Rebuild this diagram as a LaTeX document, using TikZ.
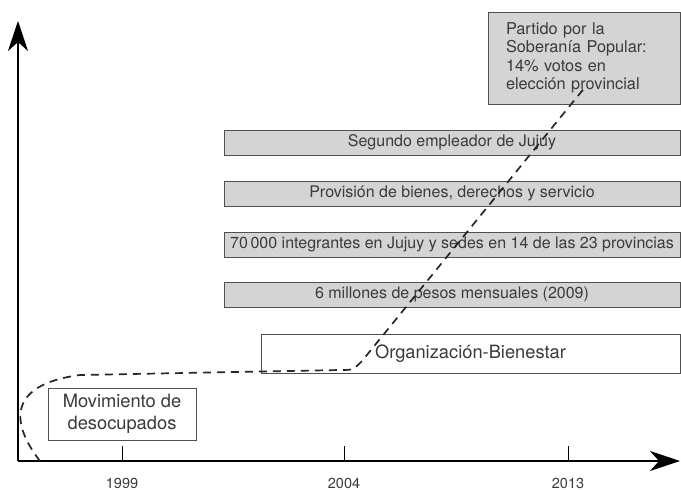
\documentclass[tikz,border=0pt]{standalone}
\usepackage{fontspec}
\setmainfont{TeX Gyre Heros}
\usetikzlibrary{arrows.meta}
\definecolor{grisbarra}{HTML}{D4D4D4}
\definecolor{borde}{HTML}{505050}
\definecolor{texto}{HTML}{3A3A3A}

\begin{document}
\begin{tikzpicture}[x=1pt, y=-1pt,
    barra/.style={draw=borde, fill=grisbarra, line width=0.9pt, minimum width=456pt,
      minimum height=25pt, inner sep=0pt, text=texto, font=\fontsize{16}{18}\selectfont},
    caja/.style={draw=borde, fill=white, line width=0.9pt, inner sep=0pt, text=texto,
      font=\fontsize{18.3}{22}\selectfont},
    eje/.style={line width=1.2pt, -{Stealth[length=30pt, width=20pt, inset=9pt]}},
    tray/.style={line width=1.7pt, dash pattern=on 8pt off 6pt, black!85}]
  \useasboundingbox (0,0) rectangle (681,490);

  % ejes y marcas
  \coordinate (origen) at (18,461);
  \coordinate (arriba) at (18,21);
  \coordinate (derecha) at (680,461);
  \draw [eje] (origen) -- (arriba);
  \draw [eje] (origen) -- (derecha);
  \foreach \x/\anio in {122/1999, 344/2004, 568/2013} {
    \draw [line width=0.9pt] (\x,446) -- (\x,461);
    \node [inner sep=0pt, text=texto, font=\fontsize{14.5}{16}\selectfont] (a\anio) at (\x,483) {\anio};
  }

  % barras grises
  \node [barra] (segundo) at (452,142.5) {Segundo empleador de Jujuy};
  \node [barra] (provision) at (452,193.5) {Provisión de bienes, derechos y servicio};
  \node [barra] (integrantes) at (452,244.5) {70\,000 integrantes en Jujuy y sedes en 14 de las 23 provincias};
  \node [barra] (millones) at (452,294.5) {6 millones de pesos mensuales (2009)};

  % cajas
  \node [caja, minimum width=419pt, minimum height=39pt] (bienestar) at (470.5,353.5) {Organización-Bienestar};
  \node [caja, minimum width=148pt, minimum height=52pt, align=center] (movimiento) at (122,414)
    {Movimiento de\\desocupados};
  \node [caja, fill=grisbarra, minimum width=192pt, minimum height=92pt, text width=156pt,
    align=left, font=\fontsize{16.3}{18.5}\selectfont] (partido) at (584,58)
    {Partido por la\\Soberanía Popular:\\14\% votos en\\elección provincial};

  % trayectoria
  \coordinate (inicio) at ([xshift=22pt]origen);
  \coordinate (fin) at ([yshift=16pt]partido.south);
  \draw [tray] (inicio) .. controls (12,425) and (5,385) .. (80,375) -- (340,370)
    .. controls (353,370) .. (362,361) -- (fin);
\end{tikzpicture}
\end{document}
